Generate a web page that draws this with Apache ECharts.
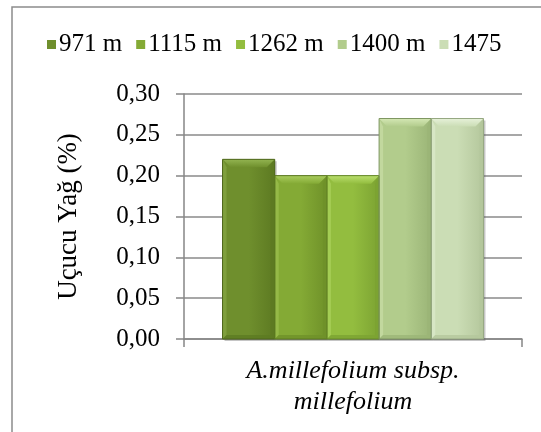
<!DOCTYPE html>
<html>
<head>
<meta charset="utf-8">
<script src="https://cdn.jsdelivr.net/npm/echarts@6/dist/echarts.min.js"></script>
<style>
  html, body { margin: 0; padding: 0; background: #fff; }
  #chart { width: 541px; height: 432px; }
</style>
</head>
<body>
<div id="chart"></div>
<script>
// Essential oil yield by altitude
const categories = ['A.millefolium subsp.\nmillefolium'];
const seriesNames = ['971 m', '1115 m', '1262 m', '1400 m', '1475'];
const values = [0.22, 0.20, 0.20, 0.27, 0.27];
const yMin = 0, yMax = 0.30, yStep = 0.05;

// Bevelled bar palette: [body, light, dark, border]
const palette = [
  ['#6f8f2d', '#93b451', '#5d7a22', '#4e671c'],
  ['#84aa35', '#aacd5e', '#6f9129', '#5d7b20'],
  ['#93bd3f', '#badf6e', '#7ca332', '#678a27'],
  ['#b2cc8c', '#d4e7b4', '#9bb577', '#7f9762'],
  ['#cbddb5', '#e6f1d9', '#b4c79c', '#96a882']
];

const GAP = 0.228;
const chart = echarts.init(document.getElementById('chart'));
const serif = '"Liberation Serif", "Times New Roman", serif';

function makeRender(i, n) {
  return function (params, api) {
    const c = api.value(0), v = api.value(1);
    const base = api.coord([c, 0]);
    const top = api.coord([c, v]);
    const band = api.size([1, 0])[0];
    const w = band * (1 - GAP) / n;
    const x = base[0] - w * n / 2 + i * w;
    const y = top[1];
    const h = base[1] - top[1];
    const b = Math.min(8, h / 3), s = 4;
    const p = palette[i];
    return {
      type: 'group',
      children: [
        { type: 'rect', shape: { x: x + 2, y: y + 2, width: w, height: h },
          style: { fill: 'rgba(90,90,90,0.35)' }, z2: 0 },
        { type: 'rect', shape: { x: x, y: y, width: w, height: h },
          style: { fill: new echarts.graphic.LinearGradient(0, 0, 1, 0, [
            { offset: 0, color: p[0] }, { offset: 0.5, color: p[0] }, { offset: 1, color: p[2] }
          ]) }, z2: 1 },
        { type: 'polygon', shape: { points: [[x, y], [x + w, y], [x + w - b, y + b], [x + b, y + b]] },
          style: { fill: new echarts.graphic.LinearGradient(0, 0, 0, 1, [
            { offset: 0, color: p[1] }, { offset: 1, color: p[0] }
          ]) }, z2: 2 },
        { type: 'polygon', shape: { points: [[x, y], [x + s, y + b], [x + s, y + h - s], [x, y + h]] },
          style: { fill: p[1], opacity: 0.45 }, z2: 2 },
        { type: 'polygon', shape: { points: [[x + w, y], [x + w - s, y + b], [x + w - s, y + h - s], [x + w, y + h]] },
          style: { fill: p[2] }, z2: 2 },
        { type: 'polygon', shape: { points: [[x, y + h], [x + s, y + h - s], [x + w - s, y + h - s], [x + w, y + h]] },
          style: { fill: p[2], opacity: 0.8 }, z2: 2 },
        { type: 'rect', shape: { x: x, y: y, width: w, height: h },
          style: { fill: 'none', stroke: p[3], lineWidth: 1 }, z2: 3 }
      ]
    };
  };
}

const series = seriesNames.map((name, i) => ({
  name: name,
  type: 'custom',
  renderItem: makeRender(i, seriesNames.length),
  itemStyle: { color: palette[i][0] },
  encode: { x: 0, y: 1 },
  data: [[0, values[i]]],
  z: 3
}));

chart.setOption({
  animation: false,
  backgroundColor: '#fff',
  graphic: [{
    type: 'rect',
    shape: { x: 12, y: 7, width: 600, height: 500 },
    style: { fill: 'none', stroke: '#8c8c8c', lineWidth: 1.5 },
    silent: true
  }],
  legend: {
    top: 27,
    left: 42,
    itemWidth: 9,
    itemHeight: 9,
    itemGap: 14,
    icon: 'rect',
    textStyle: { fontFamily: serif, fontSize: 25, color: '#000', padding: [0, 0, 0, -2] },
    data: seriesNames
  },
  grid: { left: 184, right: 19, top: 94, bottom: 93 },
  xAxis: {
    type: 'category',
    data: categories,
    axisLine: { lineStyle: { color: '#868686', width: 1.5 } },
    axisTick: { show: true, length: 8, lineStyle: { color: '#868686', width: 1.5 } },
    axisLabel: { fontFamily: serif, fontStyle: 'italic', fontSize: 26, lineHeight: 31, color: '#000', margin: 17 }
  },
  yAxis: {
    type: 'value',
    min: yMin, max: yMax, interval: yStep,
    name: 'Uçucu Yağ (%)',
    nameLocation: 'middle',
    nameGap: 102,
    nameTextStyle: { fontFamily: serif, fontSize: 27, color: '#000' },
    axisLine: { show: true, lineStyle: { color: '#868686', width: 1.5 } },
    axisTick: { show: true, length: 8, lineStyle: { color: '#868686', width: 1.5 } },
    splitLine: { lineStyle: { color: '#8a8a8a', width: 1.5 } },
    axisLabel: {
      fontFamily: serif, fontSize: 25, color: '#000', margin: 24,
      formatter: v => v.toFixed(2).replace('.', ',')
    }
  },
  series: series
});
</script>
</body>
</html>
